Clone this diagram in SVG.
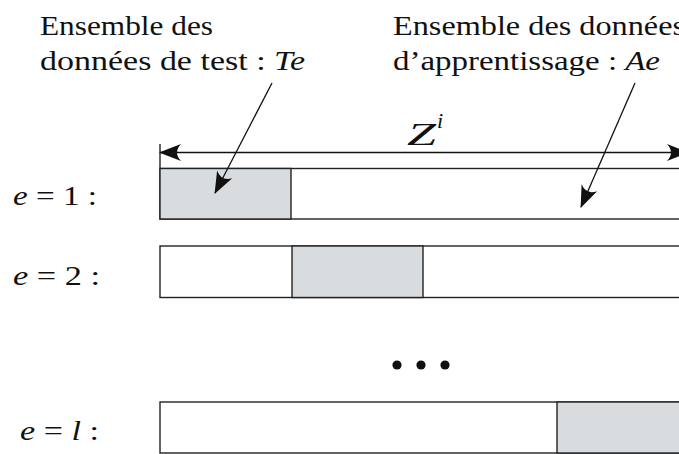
<svg xmlns="http://www.w3.org/2000/svg" width="679" height="454" viewBox="0 0 679 454">
<style>
text{font-family:"Liberation Serif","Times New Roman",serif;font-size:27px;fill:#111}
.it{font-style:italic}
.bar{fill:#fff;stroke:#222;stroke-width:1.4}
.test{fill:#d9dcdf;stroke:#222;stroke-width:1.4}
.ln{stroke:#111;stroke-width:1.3;fill:none}
</style>
<defs>
<marker id="ah" viewBox="-24 -10 26 20" refX="0" refY="0" markerWidth="26" markerHeight="20" markerUnits="userSpaceOnUse" orient="auto-start-reverse">
<path d="M1,0 L-21,-8.5 Q-13,0 -21,8.5 Z" fill="#111"/>
</marker>
</defs>
<rect width="679" height="454" fill="#fff"/>
<g id="label-test">
<text x="40" y="35" textLength="173" lengthAdjust="spacingAndGlyphs">Ensemble des</text>
<text x="40" y="70" textLength="265" lengthAdjust="spacingAndGlyphs">données de test : <tspan class="it">Te</tspan></text>
</g>
<g id="label-train">
<text x="393" y="35" textLength="292" lengthAdjust="spacingAndGlyphs">Ensemble des données</text>
<text x="393" y="70" textLength="267" lengthAdjust="spacingAndGlyphs">d’apprentissage : <tspan class="it">Ae</tspan></text>
</g>
<g id="dimension">
<line class="ln" x1="160" y1="144" x2="160" y2="168"/>
<text x="407" y="145" class="it" style="font-size:32px" textLength="29" lengthAdjust="spacingAndGlyphs">Z</text>
<text x="437" y="128" class="it" style="font-size:22px">i</text>
</g>
<g id="row-1">
<text x="13" y="205" textLength="84" lengthAdjust="spacingAndGlyphs"><tspan class="it">e</tspan> = 1 :</text>
<rect class="bar" x="160" y="168.5" width="560" height="50.5"/>
<rect class="test" x="160" y="168.5" width="131" height="50.5"/>
</g>
<g id="row-2">
<text x="13" y="285" textLength="87" lengthAdjust="spacingAndGlyphs"><tspan class="it">e</tspan> = 2 :</text>
<rect class="bar" x="160" y="246" width="560" height="51.5"/>
<rect class="test" x="292" y="246" width="131" height="51.5"/>
</g>
<g id="dots">
<circle cx="397" cy="365" r="4.6" fill="#111"/>
<circle cx="421" cy="365" r="4.6" fill="#111"/>
<circle cx="445" cy="365" r="4.6" fill="#111"/>
</g>
<g id="row-l">
<text x="20" y="440" textLength="79" lengthAdjust="spacingAndGlyphs"><tspan class="it">e</tspan> = <tspan class="it">l</tspan> :</text>
<rect class="bar" x="160" y="402" width="560" height="51"/>
<rect class="test" x="557" y="402" width="160" height="51"/>
</g>
<g id="connectors">
<line class="ln" x1="160" y1="152.5" x2="688" y2="152.5" marker-start="url(#ah)" marker-end="url(#ah)"/>
<line class="ln" x1="272" y1="83" x2="215" y2="193" marker-end="url(#ah)"/>
<line class="ln" x1="635" y1="83" x2="581" y2="207" marker-end="url(#ah)"/>
</g>
</svg>
